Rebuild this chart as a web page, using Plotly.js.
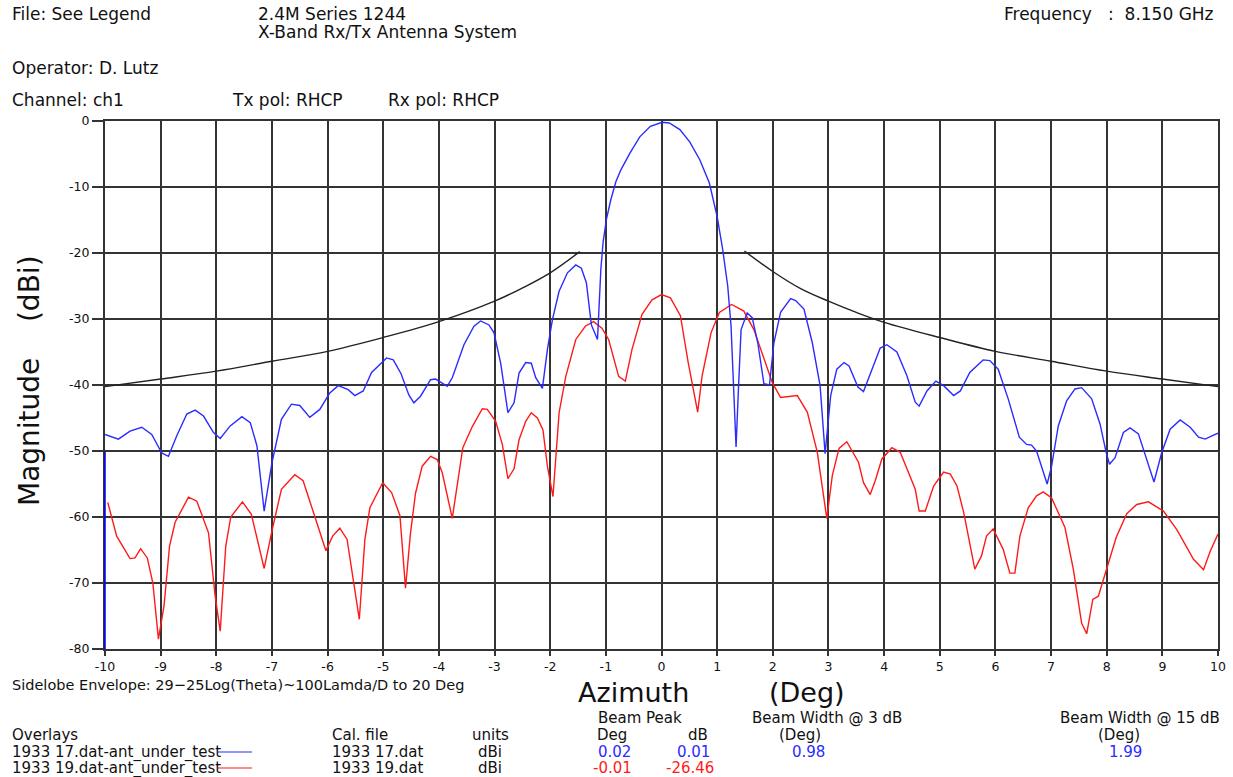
<!DOCTYPE html>
<html>
<head>
<meta charset="utf-8">
<script src="https://cdn.plot.ly/plotly-3.0.1.min.js"></script>
<style>
html,body{margin:0;padding:0;background:#fff;}
#chart{width:1233px;height:777px;}
</style>
</head>
<body>
<div id="chart"></div>
<script>
// ---- Data ----
const blueAz = [-10,-9.76,-9.55,-9.34,-9.16,-8.98,-8.86,-8.71,-8.53,-8.38,-8.23,-8.05,-7.93,-7.75,-7.54,-7.39,-7.27,-7.14,-7.0,-6.83,-6.65,-6.5,-6.32,-6.14,-5.96,-5.81,-5.63,-5.51,-5.36,-5.21,-4.94,-4.82,-4.68,-4.54,-4.45,-4.33,-4.15,-4.06,-3.85,-3.76,-3.55,-3.37,-3.25,-3.1,-3.01,-2.89,-2.76,-2.65,-2.56,-2.44,-2.34,-2.26,-2.14,-2.05,-1.96,-1.84,-1.69,-1.54,-1.44,-1.35,-1.26,-1.15,-1.09,-1.05,-0.99,-0.91,-0.82,-0.73,-0.57,-0.39,-0.2,0.01,0.14,0.33,0.51,0.69,0.86,1.0,1.1,1.19,1.25,1.3,1.34,1.38,1.43,1.54,1.63,1.73,1.84,1.94,2.02,2.14,2.32,2.41,2.56,2.71,2.85,2.94,3.04,3.15,3.28,3.37,3.53,3.63,3.78,3.93,4.05,4.23,4.41,4.56,4.63,4.77,4.93,5.07,5.25,5.37,5.54,5.78,5.9,6.05,6.23,6.43,6.56,6.65,6.74,6.86,6.93,7.01,7.13,7.28,7.43,7.55,7.73,7.88,7.99,8.05,8.15,8.3,8.42,8.57,8.72,8.85,8.99,9.14,9.32,9.5,9.65,9.77,9.89,10.0];
const blueDb = [-47.5,-48.2,-47.0,-46.4,-47.5,-50.3,-50.8,-47.7,-44.4,-43.8,-44.7,-47.2,-48.1,-46.2,-44.8,-45.7,-49.2,-59.1,-51.8,-45.2,-42.9,-43.1,-44.9,-43.7,-41.2,-40.1,-40.7,-41.6,-40.9,-38.1,-35.9,-36.2,-38.3,-41.5,-42.7,-41.7,-39.2,-39.1,-40.2,-38.9,-33.9,-31.1,-30.3,-30.9,-32.1,-36.7,-44.2,-42.7,-38.2,-36.6,-36.7,-38.9,-40.5,-34.6,-30.1,-25.8,-23.0,-21.8,-22.3,-24.5,-30.9,-33.1,-22.5,-18.4,-14.9,-11.9,-9.2,-7.4,-4.9,-2.4,-0.8,-0.2,-0.3,-1.3,-3.2,-5.9,-9.4,-14.5,-19.5,-25.0,-31.1,-41.1,-49.4,-41.1,-31.6,-29.1,-29.8,-33.6,-39.8,-40.0,-33.6,-29.0,-26.9,-27.2,-28.5,-33.6,-40.1,-50.4,-41.6,-37.6,-36.6,-37.1,-40.3,-41.0,-37.6,-34.4,-33.9,-35.0,-38.6,-42.6,-43.2,-40.9,-39.4,-40.1,-41.6,-40.9,-38.1,-36.2,-36.3,-37.6,-42.1,-47.9,-49.0,-49.1,-50.0,-53.3,-55.0,-52.3,-46.2,-42.4,-40.6,-40.4,-42.1,-45.9,-50.2,-52.0,-51.0,-47.2,-46.5,-47.4,-51.2,-54.7,-50.2,-46.7,-45.3,-46.4,-47.9,-48.2,-47.7,-47.3];

const redAz = [-9.95,-9.79,-9.55,-9.46,-9.36,-9.24,-9.14,-9.04,-8.94,-8.84,-8.74,-8.5,-8.35,-8.14,-8.02,-7.93,-7.83,-7.74,-7.53,-7.37,-7.14,-7.0,-6.83,-6.59,-6.44,-6.23,-6.11,-6.03,-5.91,-5.78,-5.65,-5.53,-5.43,-5.33,-5.24,-5.01,-4.85,-4.7,-4.6,-4.51,-4.42,-4.3,-4.15,-4.03,-3.94,-3.76,-3.67,-3.57,-3.4,-3.22,-3.13,-2.98,-2.86,-2.76,-2.65,-2.56,-2.44,-2.34,-2.23,-2.13,-2.05,-1.95,-1.84,-1.72,-1.54,-1.37,-1.22,-1.07,-0.95,-0.77,-0.65,-0.53,-0.35,-0.17,0.0,0.16,0.34,0.48,0.65,0.73,0.89,1.04,1.26,1.48,1.66,1.84,1.99,2.14,2.44,2.62,2.8,2.97,3.07,3.19,3.33,3.54,3.63,3.75,3.84,3.96,4.14,4.29,4.44,4.56,4.63,4.74,4.89,5.07,5.19,5.31,5.43,5.54,5.63,5.75,5.84,5.96,6.14,6.26,6.35,6.44,6.59,6.74,6.86,7.01,7.25,7.4,7.55,7.64,7.75,7.85,8.0,8.17,8.36,8.54,8.75,8.87,9.02,9.26,9.56,9.74,9.86,10.0];
const redDb = [-57.8,-62.9,-66.3,-66.2,-64.8,-66.2,-70.0,-78.5,-73.5,-64.4,-60.8,-57.0,-57.6,-62.4,-72.0,-77.3,-64.4,-60.0,-57.7,-59.6,-67.8,-62.1,-55.8,-53.6,-54.5,-59.8,-63.1,-65.1,-62.9,-61.7,-63.4,-70.0,-75.5,-63.4,-58.6,-54.8,-56.3,-59.8,-70.8,-62.4,-56.4,-52.3,-50.8,-51.3,-53.3,-60.2,-55.4,-49.5,-46.3,-43.6,-43.7,-45.5,-49.0,-54.2,-52.7,-48.3,-45.5,-44.2,-45.0,-46.8,-52.3,-56.9,-44.2,-38.7,-33.1,-31.1,-30.4,-31.4,-33.1,-38.7,-39.4,-34.6,-29.3,-27.1,-26.3,-26.8,-29.5,-36.6,-44.1,-38.6,-32.1,-29.0,-27.8,-28.8,-31.6,-36.1,-39.6,-41.9,-41.6,-44.1,-50.2,-60.2,-53.7,-49.6,-48.6,-51.7,-54.8,-56.6,-54.5,-51.2,-49.5,-50.2,-53.3,-55.8,-59.1,-59.1,-55.3,-53.2,-53.5,-55.3,-59.3,-63.9,-67.9,-65.9,-62.9,-61.8,-64.9,-68.5,-68.5,-62.9,-58.6,-56.8,-56.2,-57.1,-61.6,-67.9,-76.1,-77.7,-72.5,-72.0,-67.7,-63.1,-59.5,-58.1,-57.7,-58.3,-59.1,-61.9,-66.4,-68.0,-65.2,-62.6];

const envLeftAz = [-10,-9,-8,-7,-6,-5,-4,-3,-2.5,-2,-1.47];
const envLeftDb = [-40.25,-39.1,-37.9,-36.4,-34.9,-32.8,-30.4,-27.3,-25.3,-23.0,-19.8];
const envRightAz = [1.49,2,2.5,3,3.5,4,5,6,7,8,9,10];
const envRightDb = [-19.7,-22.8,-25.4,-27.3,-29.0,-30.5,-32.8,-34.9,-36.4,-37.9,-39.1,-40.25];

const xTicks = [-10,-9,-8,-7,-6,-5,-4,-3,-2,-1,0,1,2,3,4,5,6,7,8,9,10];
const yTicks = [0,-10,-20,-30,-40,-50,-60,-70,-80];

// ---- Layout helpers (pixel -> paper) ----
const L = 105, R = 1218, T = 121, B = 649;
const px = x => (x - L) / (R - L);
const py = y => (B - y) / (B - T);
const FONT = 'DejaVu Sans, Verdana, sans-serif';
const BLUE = '#2b2bff', RED = '#ff1a1a';
const GRID = '#333333';

function txt(x, y, text, opts) {
  opts = opts || {};
  return {
    xref: 'paper', yref: 'paper', x: px(x), y: py(y), text: text,
    showarrow: false, xanchor: opts.xanchor || 'left', yanchor: 'middle',
    font: {family: FONT, size: opts.size || 15, color: opts.color || '#111'}
  };
}

const annotations = [
  txt(10, 14, 'File: See Legend', {size: 17}),
  txt(256, 14, '2.4M Series 1244', {size: 17}),
  txt(256, 32, 'X-Band Rx/Tx Antenna System', {size: 17}),
  txt(1216, 14, 'Frequency&nbsp;&nbsp;&nbsp;:&nbsp;&nbsp;8.150 GHz', {xanchor: 'right', size: 17}),
  txt(10, 68, 'Operator: D. Lutz', {size: 17}),
  txt(10, 100, 'Channel: ch1', {size: 17}),
  txt(230, 100, 'Tx pol: RHCP', {size: 17}),
  txt(386, 100, 'Rx pol: RHCP', {size: 17}),
  txt(10, 685, 'Sidelobe Envelope: 29\u221225Log(Theta)~100Lamda/D to 20 Deg', {size: 14.5}),
  txt(576, 692, 'Azimuth', {size: 27}),
  txt(767, 692, '(Deg)', {size: 27}),
  {xref: 'paper', yref: 'paper', x: px(29), y: py(381), text: 'Magnitude&nbsp;&nbsp;&nbsp;&nbsp;(dBi)', textangle: -90, showarrow: false, xanchor: 'center', yanchor: 'middle', font: {family: FONT, size: 28, color: '#111'}},
  txt(640, 718, 'Beam Peak', {xanchor: 'center'}),
  txt(827, 718, 'Beam Width @ 3 dB', {xanchor: 'center'}),
  txt(1140, 718, 'Beam Width @ 15 dB', {xanchor: 'center'}),
  txt(10, 735, 'Overlays'),
  txt(330, 735, 'Cal. file'),
  txt(490, 735, 'units', {xanchor: 'center'}),
  txt(612, 735, 'Deg', {xanchor: 'center'}),
  txt(698, 735, 'dB', {xanchor: 'center'}),
  txt(800, 735, '(Deg)', {xanchor: 'center'}),
  txt(1119, 735, '(Deg)', {xanchor: 'center'}),
  txt(10, 752, '1933 17.dat-ant_under_test'),
  txt(330, 752, '1933 17.dat'),
  txt(490, 752, 'dBi', {xanchor: 'center'}),
  txt(614, 752, '0.02', {xanchor: 'center', color: BLUE}),
  txt(712, 752, '0.01', {xanchor: 'right', color: BLUE}),
  txt(808, 752, '0.98', {xanchor: 'center', color: BLUE}),
  txt(1125, 752, '1.99', {xanchor: 'center', color: BLUE}),
  txt(10, 768, '1933 19.dat-ant_under_test'),
  txt(330, 768, '1933 19.dat'),
  txt(490, 768, 'dBi', {xanchor: 'center'}),
  txt(612, 768, '-0.01', {xanchor: 'center', color: RED}),
  txt(716, 768, '-26.46', {xanchor: 'right', color: RED}),
];

const shapes = [
  {type: 'line', xref: 'paper', yref: 'paper', x0: px(218), x1: px(252), y0: py(752), y1: py(752), line: {color: BLUE, width: 1.2}},
  {type: 'line', xref: 'paper', yref: 'paper', x0: px(218), x1: px(252), y0: py(768), y1: py(768), line: {color: RED, width: 1.2}},
  {type: 'line', xref: 'paper', yref: 'paper', x0: 0, x1: 0, y0: 0, y1: py(451.5), line: {color: '#0000ff', width: 1.5}},
];

const traces = [
  {x: envLeftAz, y: envLeftDb, mode: 'lines', line: {color: '#222', width: 1.4, shape: 'spline'}, hoverinfo: 'skip'},
  {x: envRightAz, y: envRightDb, mode: 'lines', line: {color: '#222', width: 1.4, shape: 'spline'}, hoverinfo: 'skip'},
  {x: redAz, y: redDb, mode: 'lines', line: {color: RED, width: 1.4}},
  {x: blueAz, y: blueDb, mode: 'lines', line: {color: BLUE, width: 1.4}},
];

const layout = {
  width: 1233, height: 777,
  margin: {l: L, r: 1233 - R, t: T, b: 777 - B},
  paper_bgcolor: '#fff', plot_bgcolor: '#fff',
  showlegend: false,
  font: {family: FONT, color: '#111'},
  xaxis: {
    range: [-10, 10], tickvals: xTicks, ticktext: xTicks.map(String),
    showgrid: true, gridcolor: GRID, gridwidth: 2,
    zeroline: false, showline: true, mirror: true, linecolor: GRID, linewidth: 2,
    ticks: 'outside', ticklen: 5, tickcolor: GRID, tickwidth: 2,
    tickfont: {family: FONT, size: 12.5, color: '#111'}, fixedrange: true
  },
  yaxis: {
    range: [-80, 0], tickvals: yTicks, ticktext: yTicks.map(String),
    showgrid: true, gridcolor: GRID, gridwidth: 2,
    zeroline: false, showline: true, mirror: true, linecolor: GRID, linewidth: 2,
    ticks: 'outside', ticklen: 11, tickcolor: GRID, tickwidth: 2,
    tickfont: {family: FONT, size: 12.5, color: '#111'}, fixedrange: true
  },
  annotations: annotations,
  shapes: shapes
};

Plotly.newPlot('chart', traces, layout, {displayModeBar: false, staticPlot: true});
</script>
</body>
</html>
